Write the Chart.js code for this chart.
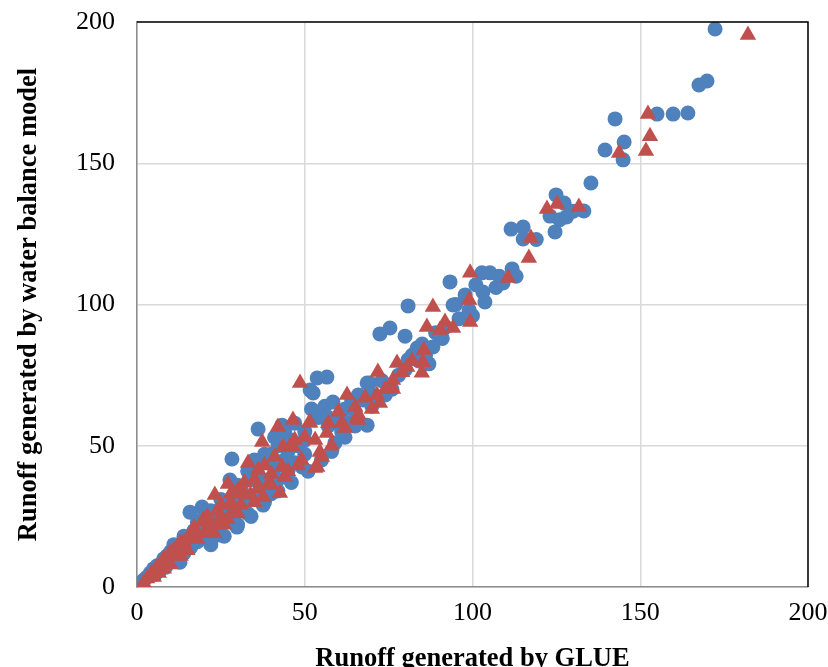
<!DOCTYPE html>
<html>
<head>
<meta charset="utf-8">
<script src="https://cdn.jsdelivr.net/npm/chart.js@4.4.1/dist/chart.umd.min.js"></script>
<style>
  html, body { margin: 0; padding: 0; background: #fff; }
  #wrap { width: 828px; height: 667px; }
</style>
</head>
<body>
<div id="wrap"><canvas id="scatter"></canvas></div>
<script>
// Runoff by GLUE (x) vs runoff by water balance model (y)
let blueX = [1.5, 2, 3, 4, 5, 5.5, 6, 7, 7, 8, 8.5, 9, 10, 10, 11, 12, 12.8, 13, 14, 15,
  15.8, 16, 17, 18, 19.4, 20, 20, 21, 22, 23, 24, 24.7, 25, 26, 27, 27.7, 28, 28.3, 29, 29.8,
  30, 31, 32, 33, 34, 35, 36, 36.1, 37, 37.6, 38, 39, 40, 40, 41, 42, 42, 43.2, 44, 45,
  46, 47, 48, 48.6, 49.2, 50, 50, 51.6, 52.5, 53.7, 55.4, 55.4, 56, 56.6, 57, 58.4, 59, 60, 61, 62,
  63, 64, 65, 67.4, 68.6, 68.6, 69.4, 70, 72.4, 73, 75.4, 76, 78, 79.9, 80, 80.8, 80.8, 82, 83.5, 85,
  86, 88.2, 89, 91, 93.3, 94.2, 96, 97.8, 99, 100, 102.8, 103.1, 103.7, 105.2, 107, 109.1, 111.5, 111.8, 115.1, 115.1,
  123.1, 124.6, 124.9, 127.3, 129.1, 133.2, 135.3, 139.5, 142.5, 144.9, 145.2, 155, 159.8, 164.2, 167.5, 169.9, 172.3,
  11, 14, 18, 22, 25, 30, 33, 38, 41, 44, 47, 52, 54, 57, 22, 26, 30, 34, 38, 42,
  46, 51, 55, 58, 62, 20, 35, 45, 50, 60, 65, 66, 70, 74, 84, 87, 92, 95, 101, 108,
  113, 119, 126, 128, 130];
let blueY = [1.5, 2.5, 3.5, 5, 6.5, 4.5, 7.5, 8, 6, 10, 7, 11, 12.5, 9, 13, 10.5, 8.8, 15, 12, 17,
  26.5, 14, 20, 16, 28.3, 22, 18, 24, 19, 26, 21, 18.4, 28, 23, 30, 37.9, 25, 45.3, 33, 21.2,
  28, 35, 30, 26, 38, 32, 40, 55.9, 35, 29, 44, 38, 47, 33, 42, 50, 38, 57.3, 45, 41,
  52, 44, 50, 43.9, 42.5, 55, 47, 69.7, 68.7, 74, 61.6, 62.7, 64, 74.3, 57, 65.5, 51, 60, 55, 63,
  58, 66, 62, 66.2, 72.2, 57.3, 72.2, 68, 89.6, 73, 91.7, 70, 75, 88.8, 77, 99.5, 80.4, 82, 84.6, 86,
  82, 85, 90, 88, 108, 99.8, 95, 103.4, 98, 96, 111.2, 104.4, 100.9, 111.2, 106, 107.6, 126.7, 112.6, 127.4, 123.2,
  131.3, 125.7, 138.8, 135.9, 132.7, 133.1, 143, 154.7, 165.7, 151.2, 157.5, 167.4, 167.4, 167.8, 177.7, 179.1, 197.5,
  15, 18, 23, 27, 31, 36, 41, 47, 53, 55, 58, 63, 60, 60, 15, 18, 22, 25, 30, 34,
  37, 41, 45, 48, 53, 25, 45, 48, 52, 58, 57, 68, 64, 68, 80, 79, 92, 100, 107, 110,
  110, 123, 130, 131, 133];

let redX = [2, 3, 4, 4.4, 5, 6, 6.5, 7, 8, 8, 9, 9.8, 10, 11, 12, 12.8, 13, 14, 15, 16.4,
  17, 18, 19.7, 20, 21, 22, 23, 23.2, 24, 25, 26, 27.1, 28, 28.6, 30, 30.1, 31, 32, 33.1, 33.8,
  35, 36.1, 37.3, 37.6, 39, 40, 42, 42.6, 43.2, 43.5, 44.1, 45.5, 46.5, 46.5, 48.6, 49, 51.3, 51.6, 53.1, 53.1,
  53.7, 54.5, 55.1, 56.6, 58, 62, 62.6, 65, 65.6, 65.9, 71.5, 71.8, 72.4, 76.3, 76.3, 77.5, 80.5, 84.9, 85.2, 85.5,
  86.4, 88.2, 90.3, 91.8, 94.2, 99, 99.3, 99.3, 110.6, 116.8, 117.4, 122.2, 125.2, 131.7, 143.7, 151.7, 152.3, 152.9, 182.1,
  20, 25, 28, 32, 35, 38, 41, 47, 50, 57, 60, 61, 66, 68, 70, 74, 79, 82, 48, 45,
  40, 36, 27, 15, 11, 24];
let redY = [1.5, 3, 4, 5, 3.5, 7.1, 5, 8, 10, 6.5, 9, 12, 8, 11, 14, 15.6, 11, 16, 13, 18.4,
  21, 17, 23.7, 19, 25, 21, 19, 32.6, 27, 25, 22, 36.5, 30, 27.3, 26, 34.3, 29, 33, 43.9, 32.6,
  30, 41.4, 51.3, 31.9, 36, 40, 56.6, 33.3, 42.5, 49.6, 38.9, 49.6, 59.1, 49.6, 72.2, 45, 58.1, 58.1, 52, 42.1,
  42.5, 47.8, 46, 54.5, 50, 56.3, 68, 63.7, 59.8, 59.1, 68, 76.1, 65.1, 73.3, 70.1, 79.3, 77.9, 75.8, 79.6, 83.9,
  92, 99.1, 91, 93.8, 91.7, 101.6, 111.2, 93.8, 109.4, 116.5, 123.5, 133.8, 135.6, 134.5, 153.6, 154.3, 167.4, 159.6, 195.4,
  23, 29, 33, 37, 38, 43, 46, 52, 53, 58, 62, 58, 61, 67, 63, 70, 76, 80, 43, 41,
  36, 35, 24, 17, 13, 22];

let axisTicks = [0, 50, 100, 150, 200];

function toPoints(xs, ys) {
  return xs.map(function (x, i) { return { x: x, y: ys[i] }; });
}

// dark frame on top and right of the plot area
const frame = {
  id: "frame",
  afterDraw(chart) {
    const a = chart.chartArea;
    const ctx = chart.ctx;
    ctx.save();
    ctx.strokeStyle = "#000";
    ctx.lineWidth = 1.5;
    ctx.beginPath();
    ctx.moveTo(a.left, a.top);
    ctx.lineTo(a.right, a.top);
    ctx.lineTo(a.right, a.bottom);
    ctx.stroke();
    ctx.restore();
  }
};

let serif = "'Liberation Serif', 'Times New Roman', serif";
let ctx = document.getElementById("scatter").getContext("2d");
new Chart(ctx, {
  type: "scatter",
  data: {
    datasets: [
      {
        label: "Blue",
        data: toPoints(blueX, blueY),
        order: 2, // drawn underneath the triangles
        pointStyle: "circle",
        pointRadius: 7.5,
        pointHoverRadius: 7.5,
        backgroundColor: "#4F81BD",
        borderColor: "#4F81BD",
        borderWidth: 0
      },
      {
        label: "Red",
        data: toPoints(redX, redY),
        order: 1,
        pointStyle: "triangle",
        pointRadius: 9.5,
        pointHoverRadius: 9.5,
        backgroundColor: "#C0504D",
        borderColor: "#C0504D",
        borderWidth: 0
      }
    ]
  },
  options: {
    responsive: true,
    maintainAspectRatio: false,
    animation: false,
    layout: { padding: { top: 22, right: 20, left: 0, bottom: 0 } },
    plugins: { legend: { display: false }, tooltip: { enabled: false } },
    scales: {
      x: {
        type: "linear",
        min: 0,
        max: 200,
        afterBuildTicks: function (scale) { scale.ticks = axisTicks.map(function (v) { return { value: v }; }); },
        afterFit: function (scale) {
          scale.height = 80;
          scale.paddingLeft = 0;
          scale.paddingRight = 0;
        },
        grid: { color: "#d9d9d9", lineWidth: 1.5, drawTicks: false },
        border: { color: "#8c8c8c", width: 1.5 },
        ticks: { padding: 11, color: "#000", font: { family: serif, size: 26 }, maxRotation: 0 },
        title: {
          display: true,
          text: "Runoff generated by GLUE",
          color: "#000",
          font: { family: serif, size: 26.5, weight: "bold" },
          padding: { top: 0, bottom: -8 }
        }
      },
      y: {
        type: "linear",
        min: 0,
        max: 200,
        afterBuildTicks: function (scale) { scale.ticks = axisTicks.map(function (v) { return { value: v }; }); },
        afterFit: function (scale) {
          scale.width = 137;
          scale.paddingTop = 0;
          scale.paddingBottom = 0;
        },
        grid: { color: "#d9d9d9", lineWidth: 1.5, drawTicks: false },
        border: { color: "#8c8c8c", width: 1.5 },
        ticks: { padding: 22, color: "#000", font: { family: serif, size: 26 } },
        title: {
          display: true,
          text: "Runoff generated by water balance model",
          color: "#000",
          font: { family: serif, size: 26.5, weight: "bold" },
          padding: { top: 13, bottom: 0 }
        }
      }
    }
  },
  plugins: [frame]
});
</script>
</body>
</html>
